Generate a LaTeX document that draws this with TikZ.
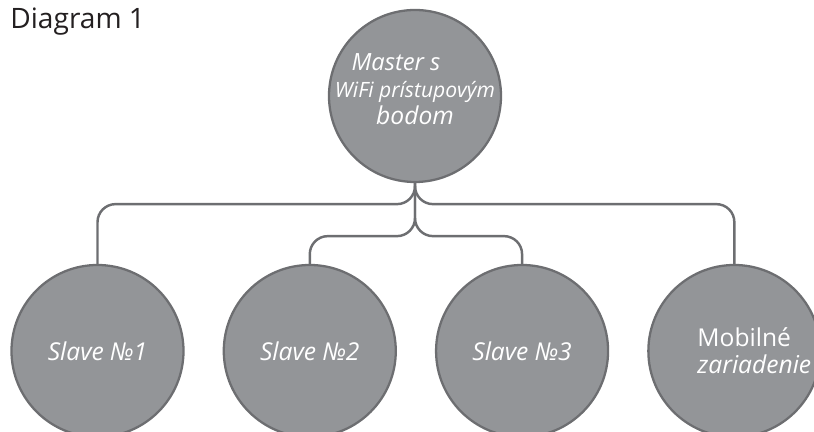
\documentclass[tikz,border=0pt]{standalone}
\usepackage{fontspec}
\setmainfont{Open Sans}
\usetikzlibrary{positioning}
\definecolor{discfill}{HTML}{939598}
\definecolor{discline}{HTML}{6D6E71}
\definecolor{titlegray}{HTML}{231F20}

\begin{document}
\begin{tikzpicture}[node distance=0.76cm,
  disc/.style={draw=discline,line width=1.3pt,fill=discfill,circle,minimum size=3.44cm,inner sep=0pt,text=white,font=\fontsize{14}{15.5}\selectfont\itshape},
  link/.style={draw=discline,line width=1.4pt,rounded corners=0.36cm}]
\clip (0,0) rectangle (16.28,8.64);
\node[anchor=base west,text=titlegray,font=\fontsize{16}{19}\selectfont,inner sep=0pt] (title) at (0.2,8.06) {Diagram 1};
\node[disc] (master) at (8.30,6.72) {};
\node[text=white,align=center,inner sep=0pt,font=\fontsize{12}{15.3}\selectfont\itshape] (mastertxt) at ([yshift=0.14cm]master.center)
  {{\fontsize{13.5}{15.3}\selectfont Master s\hspace*{0.76cm}}\\WiFi prístupovým\\{\fontsize{14}{15.3}\selectfont bodom}};
\node[disc] (s1) at (1.95,1.62) {Slave №1};
\node[disc,right=of s1] (s2) {Slave №2};
\node[disc,right=of s2] (s3) {Slave №3};
\node[disc,right=of s3,align=left] (mob) {\hspace*{0.8cm}{\upshape Mobilné}\\\hspace*{0.8cm}zariadenie};
% connectors
\draw[link] (master.south) -- ++(0,-0.42) -| (s1.north);
\draw[link] (master.south) -- ++(0,-0.42) -| (mob.north);
\draw[link] (master.south) -- ++(0,-1.06) -| (s2.north);
\draw[link] (master.south) -- ++(0,-1.06) -| (s3.north);
\end{tikzpicture}
\end{document}
